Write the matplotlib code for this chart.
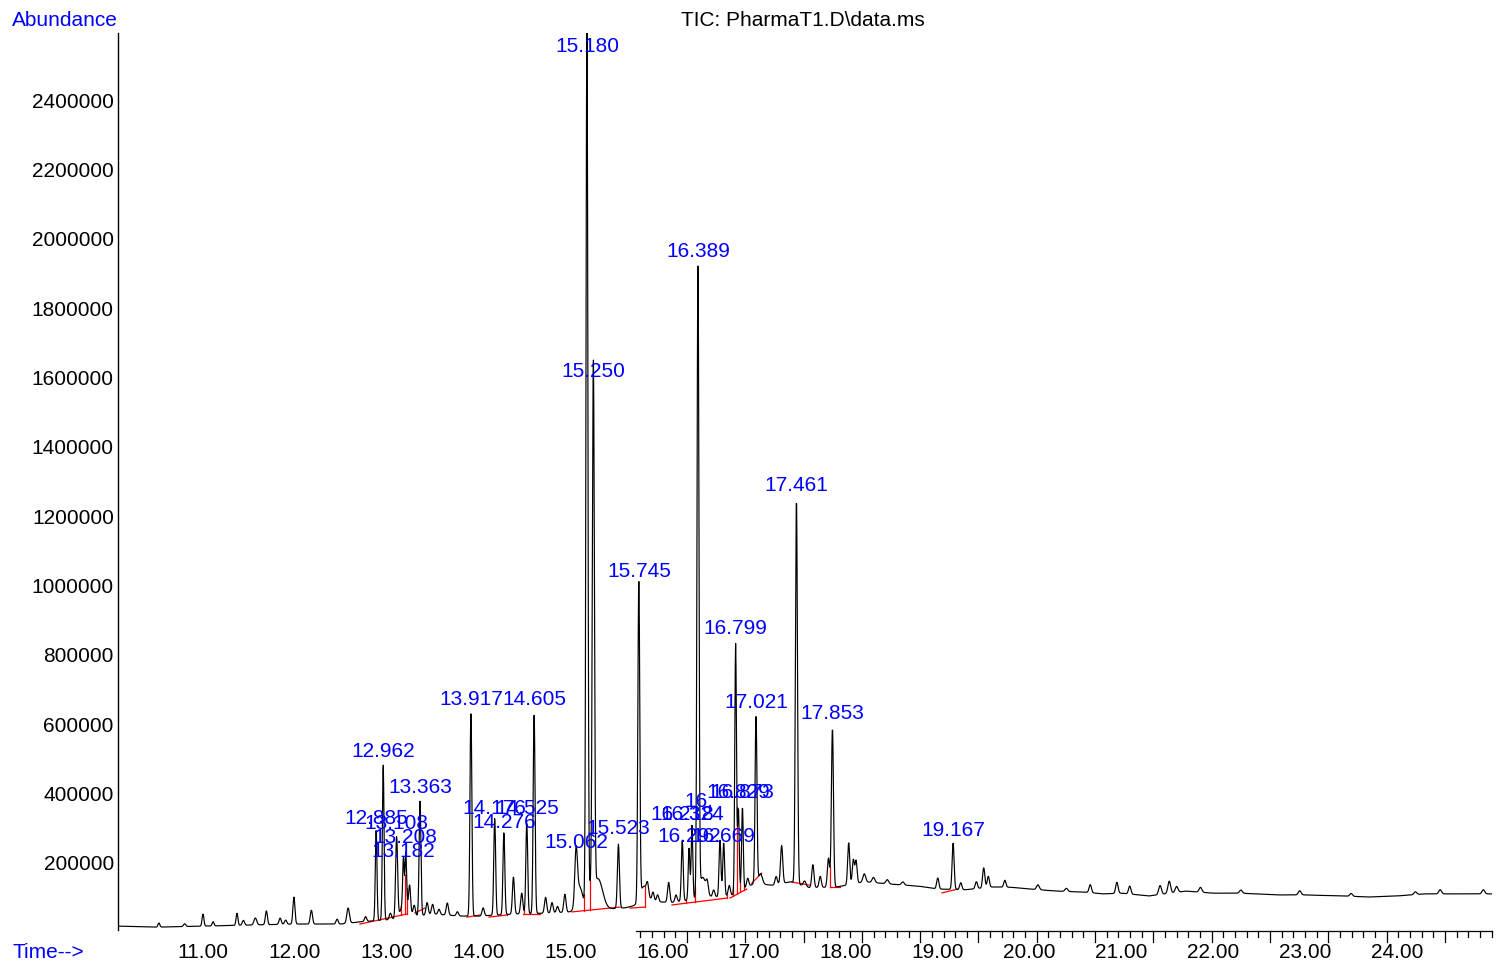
import numpy as np
import matplotlib
matplotlib.use("Agg")
import matplotlib.pyplot as plt

# ---------------- data ----------------
# baseline (valley level) of the TIC trace
baseline_t = [10.07, 10.5, 11.0, 11.5, 12.0, 12.5, 12.7, 13.0, 13.5, 13.8, 14.0, 14.4,
              14.8, 15.0, 15.4, 15.6, 15.9, 16.1, 16.5, 16.75, 17.0, 17.2, 17.4, 17.6,
              17.9, 18.2, 18.5, 18.8, 19.0, 19.3, 19.6, 19.8, 20.0, 20.3, 20.6, 20.8,
              21.0, 21.3, 21.7, 22.0, 22.3, 22.7, 23.0, 23.4, 23.7, 24.0, 24.3, 24.6, 25.05]
baseline_v = [17000, 14000, 17000, 20000, 23000, 23000, 29000, 35000, 52000, 46000, 46000, 52000,
              55000, 58000, 66000, 70000, 88000, 85000, 100000, 105000, 140000, 135000, 145000, 128000,
              130000, 145000, 138000, 132000, 124000, 122000, 130000, 129000, 124000, 118000, 115000, 110000,
              112000, 104000, 118000, 112000, 112000, 107000, 107000, 104000, 101000, 104000, 110000, 110000, 110000]

# peaks: retention time (min), height above baseline, width (sigma, min)
peak_rt = [10.52, 10.80, 11.00, 11.11, 11.37, 11.44, 11.57, 11.69, 11.84, 11.90, 11.99, 12.18,
           12.46, 12.58, 12.77, 12.885, 12.962, 13.04, 13.108, 13.182, 13.208, 13.25, 13.20,
           13.30, 13.363, 13.44, 13.50, 13.57, 13.66, 13.77, 13.917, 14.05, 14.176, 14.276,
           14.38, 14.47, 14.525, 14.605, 14.73, 14.80, 14.86, 14.94, 15.062, 15.10, 15.180,
           15.21, 15.250, 15.30, 15.523, 15.745, 15.80, 15.84, 15.90, 15.95, 16.07, 16.15,
           16.218, 16.292, 16.324, 16.389, 16.44, 16.49, 16.56, 16.629, 16.669, 16.73, 16.799,
           16.829, 16.873, 16.93, 17.021, 17.07, 17.24, 17.30, 17.461, 17.55, 17.64, 17.72,
           17.81, 17.853, 18.03, 18.08, 18.11, 18.20, 18.30, 18.45, 18.62, 19.00, 19.167,
           19.25, 19.42, 19.50, 19.55, 19.73, 20.09, 20.40, 20.66, 20.95, 21.09, 21.42,
           21.52, 21.60, 21.86, 22.30, 22.94, 23.50, 24.20, 24.47, 24.94]
peak_height = [12000, 8000, 35000, 12000, 35000, 14000, 20000, 40000, 18000, 12000, 78000, 40000,
               14000, 44000, 14000, 266000, 450000, 18000, 234000, 130000, 140000, 70000, 50000,
               30000, 330000, 35000, 28000, 15000, 35000, 12000, 595000, 23000, 280000, 237000,
               107000, 60000, 265000, 583000, 46000, 30000, 18000, 52000, 150000, 70000, 2560000,
               50000, 1525000, 90000, 185000, 930000, 50000, 30000, 25000, 20000, 58000, 20000,
               176000, 150000, 215000, 1840000, 60000, 30000, 20000, 165000, 155000, 30000, 720000,
               240000, 240000, 25000, 490000, 30000, 23000, 110000, 1115000, 15000, 66000, 32000,
               84000, 460000, 121000, 70000, 66000, 23000, 15000, 12000, 9000, 32000, 133000,
               20000, 20000, 58000, 32000, 20000, 14000, 9000, 23000, 32000, 23000, 26000,
               35000, 17000, 14000, 9000, 12000, 8000, 8000, 12000, 12000]
peak_sigma = [0.010, 0.012, 0.010, 0.010, 0.010, 0.012, 0.015, 0.011, 0.012, 0.012, 0.011, 0.012,
              0.012, 0.014, 0.012, 0.009, 0.009, 0.012, 0.011, 0.008, 0.008, 0.010, 0.040,
              0.012, 0.010, 0.012, 0.012, 0.012, 0.012, 0.012, 0.010, 0.012, 0.010, 0.010,
              0.011, 0.012, 0.010, 0.010, 0.012, 0.012, 0.012, 0.012, 0.014, 0.035, 0.010,
              0.025, 0.011, 0.050, 0.011, 0.010, 0.040, 0.012, 0.012, 0.012, 0.012, 0.012,
              0.010, 0.009, 0.009, 0.010, 0.035, 0.012, 0.012, 0.010, 0.010, 0.012, 0.009,
              0.009, 0.009, 0.012, 0.010, 0.020, 0.012, 0.012, 0.011, 0.015, 0.012, 0.012,
              0.012, 0.011, 0.011, 0.011, 0.011, 0.015, 0.015, 0.015, 0.015, 0.012, 0.011,
              0.012, 0.012, 0.012, 0.012, 0.012, 0.015, 0.015, 0.013, 0.013, 0.013, 0.015,
              0.015, 0.015, 0.015, 0.015, 0.015, 0.015, 0.015, 0.015, 0.015]

# peak labels (text as printed) and their retention times
label_text = ["12.885", "12.962", "13.108", "13.208", "13.182", "13.363", "13.917", "14.176",
              "14.276", "14.525", "14.605", "15.062", "15.180", "15.250", "15.523", "15.745",
              "16.218", "16.324", "16.292", "16.669", "16.", "16.389", "16.829", "16.873",
              "16.799", "17.021", "17.461", "17.853", "19.167"]
label_rt = [12.885, 12.962, 13.108, 13.208, 13.182, 13.363, 13.917, 14.176,
            14.276, 14.525, 14.605, 15.062, 15.180, 15.250, 15.523, 15.745,
            16.218, 16.324, 16.292, 16.669, 16.395, 16.389, 16.829, 16.873,
            16.799, 17.021, 17.461, 17.853, 19.167]
# label vertical placement (abundance units, layout)
label_y = [329000, 519500, 311700, 271300, 230900, 415600, 669600, 355000,
           314600, 355000, 669600, 256900, 2555000, 1619000, 297300, 1039000,
           337700, 337700, 277000, 277000, 375200, 1965000, 401200, 401200,
           877300, 660900, 1290000, 632000, 291500]

# integration baselines (red): start/end time and abundance
int_t0 = [12.709, 13.308, 13.874, 14.114, 14.484, 15.017, 15.649, 16.106, 16.738, 16.975, 17.413, 17.826, 19.046]
int_v0 = [23000, 55000, 43000, 43000, 52000, 58000, 69000, 78000, 98000, 141000, 144000, 130000, 113000]
int_t1 = [13.221, 13.417, 14.016, 14.310, 14.669, 15.540, 15.812, 16.705, 16.920, 17.083, 17.609, 17.935, 19.220]
int_v1 = [52000, 69000, 49000, 49000, 52000, 72000, 72000, 98000, 124000, 170000, 135000, 130000, 124000]
# peak split (drop) times
drop_t = [13.160, 13.195, 13.221, 14.310, 14.495, 14.565, 14.645, 15.148, 15.215, 15.812,
          16.262, 16.360, 16.705, 16.775, 16.814, 16.851, 16.895, 17.826]

y_ticks = [200000, 400000, 600000, 800000, 1000000, 1200000, 1400000,
           1600000, 1800000, 2000000, 2200000, 2400000]
x_labels = [11, 12, 13, 14, 15, 16, 17, 18, 19, 20, 21, 22, 23, 24]

# ---------------- figure ----------------
W, H = 1496, 965
FONT = "Liberation Sans"
plt.rcParams['font.family'] = [FONT, 'DejaVu Sans']
fig = plt.figure(figsize=(W / 100, H / 100), dpi=100)
ax_l, ax_r, ax_t, ax_b = 118, 1492, 33, 930
ax = fig.add_axes([ax_l / W, 1 - ax_b / H, (ax_r - ax_l) / W, (ax_b - ax_t) / H])

XMIN, XMAX = 10.0746, 25.034
YMIN, YMAX = 5772, 2594500
ax.set_xlim(XMIN, XMAX)
ax.set_ylim(YMIN, YMAX)
px = (YMAX - YMIN) / (ax_b - ax_t)   # abundance per pixel

# trace
t = np.arange(10.075, 25.03, 0.004)
sig = np.interp(t, baseline_t, baseline_v)
for rt, h, s in zip(peak_rt, peak_height, peak_sigma):
    sig = sig + h * np.exp(-0.5 * ((t - rt) / s) ** 2)
ax.plot(t, sig, color='black', lw=0.85, zorder=3)

# integration baselines & drops
for a, va, b, vb in zip(int_t0, int_v0, int_t1, int_v1):
    ax.plot([a, b], [va, vb], color='red', lw=0.9, zorder=2)
for d in drop_t:
    for a, va, b, vb in zip(int_t0, int_v0, int_t1, int_v1):
        if a - 1e-6 <= d <= b + 1e-6:
            base = va + (vb - va) * (d - a) / (b - a)
            top = np.interp(d, t, sig)
            ax.plot([d, d], [base, top], color='red', lw=0.9, zorder=2)
            break

# peak labels
for txt, rt, ly in zip(label_text, label_rt, label_y):
    ax.text(rt, ly, txt, color='#0000ff', fontsize=15, ha='center', va='center',
            family=FONT, zorder=4, clip_on=False)

# axes styling
for s in ['top', 'right', 'bottom']:
    ax.spines[s].set_visible(False)
ax.spines['left'].set_linewidth(1.0)
ax.set_yticks(y_ticks)
ax.set_yticklabels([str(v) for v in y_ticks], fontsize=15, family=FONT)
ax.tick_params(axis='y', length=0, pad=3)
ax.set_xticks([])

# bottom time axis (partial, as in the reference)
axis_y = YMIN - 1 * px
ax.plot([15.714, XMAX], [axis_y, axis_y], color='black', lw=0.9, clip_on=False)
tick_step = 0.12694
i = 0
while True:
    tx = 15.762 + i * tick_step
    if tx > XMAX:
        break
    L = 11 if i % 5 == 4 else 6
    ax.plot([tx, tx], [axis_y, axis_y - L * px], color='black', lw=0.9, clip_on=False)
    i += 1
for xl in x_labels:
    ax.text(xl, YMIN - 22 * px, f"{xl:.2f}", fontsize=15, ha='center', va='center',
            family=FONT, clip_on=False)

fig.text(12 / W, 1 - 20 / H, "Abundance", color='#0000ff', fontsize=15, ha='left', va='center', family=FONT)
fig.text(12 / W, 1 - 952 / H, "Time-->", color='#0000ff', fontsize=15, ha='left', va='center', family=FONT)
fig.text(802.5 / W, 1 - 20 / H, "TIC: PharmaT1.D\\data.ms", color='black', fontsize=15,
         ha='center', va='center', family=FONT)

fig.savefig("out.png", dpi=100)
